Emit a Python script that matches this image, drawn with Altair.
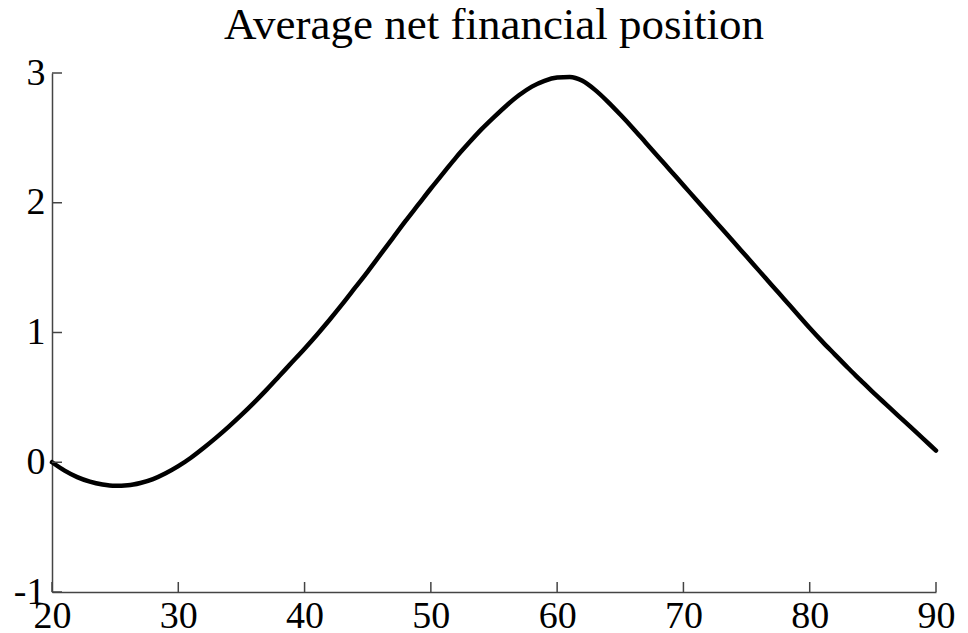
import altair as alt
import pandas as pd

# ---- data ----
AGES = list(range(20, 91))
VALUES = [
    0.00, -0.065, -0.115, -0.15, -0.172, -0.182, -0.178, -0.16, -0.13, -0.085,  # 20-29
    -0.03, 0.035, 0.11, 0.19, 0.275, 0.365, 0.46, 0.56, 0.665, 0.77,            # 30-39
    0.875, 0.985, 1.10, 1.22, 1.345, 1.47, 1.60, 1.73, 1.86, 1.985,             # 40-49
    2.11, 2.23, 2.35, 2.46, 2.565, 2.66, 2.75, 2.83, 2.895, 2.94,               # 50-59
    2.965, 2.97, 2.94, 2.87, 2.78, 2.68, 2.575, 2.465, 2.355, 2.245,            # 60-69
    2.135, 2.025, 1.915, 1.805, 1.695, 1.585, 1.475, 1.365, 1.255, 1.145,       # 70-79
    1.035, 0.93, 0.83, 0.73, 0.635, 0.54, 0.45, 0.36, 0.27, 0.18,               # 80-89
    0.09,                                                                       # 90
]
X_TICKS = [20, 30, 40, 50, 60, 70, 80, 90]
Y_TICKS = [-1, 0, 1, 2, 3]
TITLE = "Average net financial position"

W, H = 884, 519
FONT = "Liberation Serif"
AXIS_COLOR = "#444444"

line_df = pd.DataFrame({"age": AGES, "value": VALUES})
xt_df = pd.DataFrame({"age": X_TICKS})
yt_df = pd.DataFrame({"value": Y_TICKS})
title_df = pd.DataFrame({"title": [TITLE]})

xscale = alt.Scale(domain=[20, 90], nice=False, zero=False)
yscale = alt.Scale(domain=[-1, 3], nice=False, zero=False)

x_axis = alt.Axis(values=X_TICKS, title=None, ticks=False, tickSize=0, grid=False,
                  labelPadding=5, labelFontSize=38, labelFont=FONT, labelColor="black",
                  labelFlush=False, labelOverlap=False,
                  labelExpr="'' + datum.value",
                  domainColor=AXIS_COLOR, domainWidth=1.5)
y_axis = alt.Axis(values=Y_TICKS, title=None, ticks=False, tickSize=0, grid=False,
                  labelPadding=7, labelFontSize=38, labelFont=FONT, labelColor="black",
                  labelFlush=False, labelOverlap=False,
                  labelExpr="'' + datum.value",
                  domainColor=AXIS_COLOR, domainWidth=1.5)

line = alt.Chart(line_df).mark_line(
    color="black", strokeWidth=4.5, interpolate="monotone", strokeCap="round"
).encode(
    x=alt.X("age:Q", scale=xscale, axis=x_axis),
    y=alt.Y("value:Q", scale=yscale, axis=y_axis),
)

xticks = alt.Chart(xt_df).mark_rule(color=AXIS_COLOR, strokeWidth=1.5).encode(
    x=alt.X("age:Q", scale=xscale, axis=x_axis),
    y=alt.value(H),
    y2=alt.value(H - 10),
)

yticks = alt.Chart(yt_df).mark_rule(color=AXIS_COLOR, strokeWidth=1.5).encode(
    y=alt.Y("value:Q", scale=yscale, axis=y_axis),
    x=alt.value(0),
    x2=alt.value(10),
)

title = alt.Chart(title_df).mark_text(
    font=FONT, fontSize=45, color="black", align="center", baseline="alphabetic"
).encode(
    x=alt.value(W / 2),
    y=alt.value(-34),
    text="title:N",
)

chart = alt.layer(line, xticks, yticks, title).properties(
    width=W,
    height=H,
    background="white",
    autosize=alt.AutoSizeParams(type="none"),
    padding={"left": 44, "top": 65, "right": 24, "bottom": 42},
).configure_view(stroke=None)

chart.save("out.html", embed_options={"renderer": "svg", "actions": False})
